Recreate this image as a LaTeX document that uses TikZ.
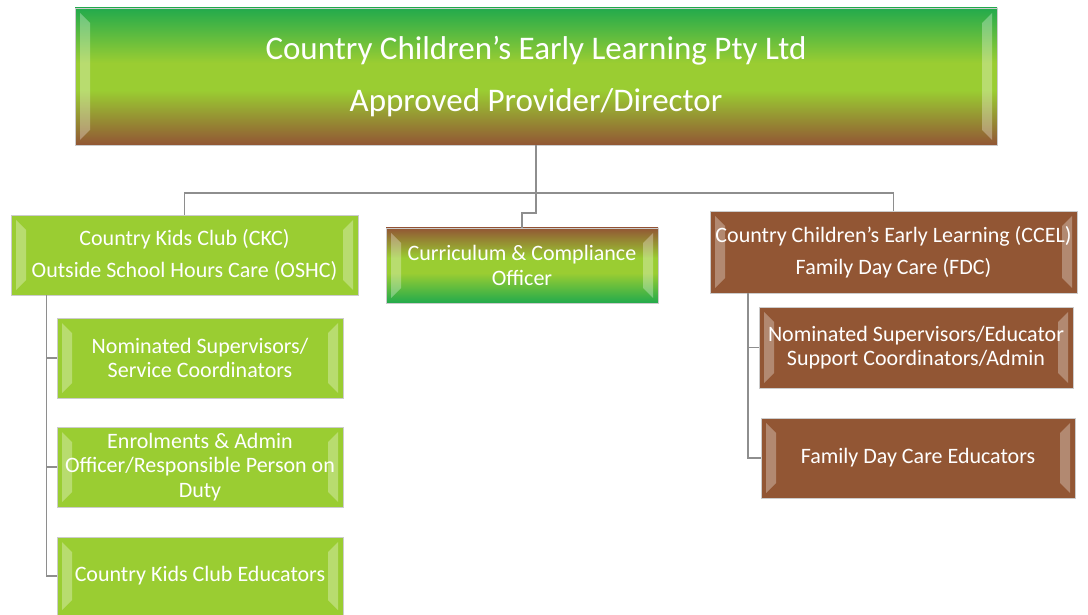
\documentclass[tikz,border=0pt]{standalone}
\usepackage{fontspec}
\setmainfont{Carlito}
\usetikzlibrary{positioning,calc}
\definecolor{leafgreen}{HTML}{22AA4C}
\definecolor{limegreen}{HTML}{9ACD32}
\definecolor{barkbrown}{HTML}{925634}
\definecolor{linegray}{HTML}{8E8E8E}

% green-lime-brown bands (first colour is the bottom one)
\pgfdeclareverticalshading{greentobrown}{100bp}{color(0bp)=(barkbrown); color(25bp)=(barkbrown);
    color(45bp)=(limegreen); color(55bp)=(limegreen); color(75bp)=(leafgreen); color(100bp)=(leafgreen)}
\pgfdeclareverticalshading{browntogreen}{100bp}{color(0bp)=(leafgreen); color(25bp)=(leafgreen);
    color(45bp)=(limegreen); color(55bp)=(limegreen); color(75bp)=(barkbrown); color(100bp)=(barkbrown)}

\begin{document}
\begin{tikzpicture}[
        x=1pt, y=-1pt,
        font=\fontsize{22}{24.5}\selectfont,
        % bevelled edges on the left and right of every box
        bevel/.style={path picture={
            \fill[white, opacity=0.3]
                ([shift={(5pt,5pt)}]path picture bounding box.south west) --
                ([shift={(5pt,-5pt)}]path picture bounding box.north west) --
                ([shift={(15pt,-15pt)}]path picture bounding box.north west) --
                ([shift={(15pt,15pt)}]path picture bounding box.south west) -- cycle;
            \fill[white, opacity=0.3]
                ([shift={(-5pt,5pt)}]path picture bounding box.south east) --
                ([shift={(-5pt,-5pt)}]path picture bounding box.north east) --
                ([shift={(-15pt,-15pt)}]path picture bounding box.north east) --
                ([shift={(-15pt,15pt)}]path picture bounding box.south east) -- cycle;
        }},
        base/.style={rectangle, draw=black!20, align=center, text=white, inner sep=1pt, bevel},
        headbox/.style={base, shading=greentobrown, font=\fontsize{33}{40}\selectfont},
        staffbox/.style={base, shading=browntogreen},
        oshc/.style={base, fill=limegreen},
        fdc/.style={base, fill=barkbrown},
        conn/.style={draw=linegray, line width=1.8pt}
    ]

    \useasboundingbox (0,0) rectangle (1088,615);

    % Director
    \node[headbox, minimum width=922, minimum height=137] (director) at (536,76.5)
        {Country Children's Early Learning Pty Ltd\\[12pt]Approved Provider/Director};

    % Three branches
    \node[oshc, minimum width=347, minimum height=80] (ckc) at (184.5,255)
        {Country Kids Club (CKC)\\[8pt]Outside School Hours Care (OSHC)};
    \node[staffbox, minimum width=272, minimum height=75] (curric) at (522,265.5)
        {Curriculum \& Compliance\\Officer};
    \node[fdc, minimum width=367, minimum height=82] (ccel) at (893.5,252)
        {Country Children's Early Learning (CCEL)\\[8pt]Family Day Care (FDC)};

    % CKC staff
    \node[oshc, minimum width=286, minimum height=80] (ckcNom) at (200,358)
        {Nominated Supervisors/\\Service Coordinators};
    \node[oshc, minimum width=286, minimum height=80] (ckcAdmin) at (200,467)
        {Enrolments \& Admin\\Officer/Responsible Person on\\Duty};
    \node[oshc, minimum width=286, minimum height=78] (ckcEdu) at (200,576)
        {Country Kids Club Educators};

    % FDC staff
    \node[fdc, minimum width=314, minimum height=81] (fdcNom) at (916,347.5)
        {Nominated Supervisors/Educator\\Support Coordinators/Admin};
    \node[fdc, minimum width=314, minimum height=80] (fdcEdu) at (918,458)
        {Family Day Care Educators};

    % ---------------- connectors ---------------- %
    \coordinate (bus) at ([yshift=-48pt]director.south);
    \draw[conn] (director.south) -- (bus);
    \draw[conn] (bus) -| (ckc.north);
    \draw[conn] (bus) -| (ccel.north);
    \draw[conn] (bus) -- ++(0,-20pt) -| (curric.north);

    % left spine
    \coordinate (ckcSpine) at ([xshift=-138pt]ckc.south);
    \draw[conn] (ckcSpine) |- (ckcEdu.west);
    \draw[conn] (ckcSpine |- ckcNom.west) -- (ckcNom.west);
    \draw[conn] (ckcSpine |- ckcAdmin.west) -- (ckcAdmin.west);

    % right spine
    \coordinate (fdcSpine) at ([xshift=-145.5pt]ccel.south);
    \draw[conn] (fdcSpine) |- (fdcEdu.west);
    \draw[conn] (fdcSpine |- fdcNom.west) -- (fdcNom.west);

\end{tikzpicture}
\end{document}
